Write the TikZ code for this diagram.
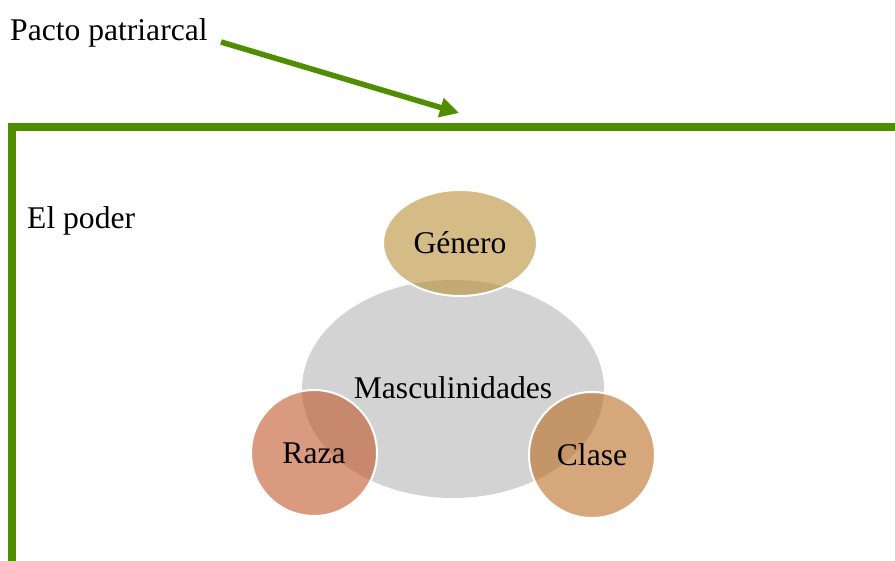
\documentclass[tikz,border=0pt]{standalone}
\usepackage{fontspec}
\setmainfont{Liberation Serif}
\usetikzlibrary{shapes.geometric,arrows.meta}
\definecolor{frameGreen}{RGB}{78,142,0}
\definecolor{midGray}{RGB}{211,211,211}
\definecolor{genCol}{RGB}{185,143,53}
\definecolor{razaCol}{RGB}{193,87,43}
\definecolor{claseCol}{RGB}{187,108,33}
\tikzset{
  lbl/.style={font=\fontsize{31.6}{36}\selectfont, inner sep=0pt},
  blob/.style={ellipse, inner sep=0pt, font=\fontsize{31.6}{36}\selectfont},
  bubble/.style={blob, fill opacity=0.6, text opacity=1, draw=white, draw opacity=1, line width=2pt},
  greenline/.style={draw=frameGreen, line width=8pt, line join=miter}
}
\begin{document}
\begin{tikzpicture}[x=1pt,y=-1pt]
\useasboundingbox (0,0) rectangle (895,561);
% frame
\coordinate (fr) at (900,127);
\coordinate (fc) at (12,127);
\coordinate (fb) at (12,566);
\draw[greenline] (fr) -- (fc) -- (fb);
% labels
\node[lbl, anchor=west] (pp) at (10,33) {Pacto patriarcal};
\node[lbl, anchor=west] (poder) at (27,221) {El poder};
% arrow
\coordinate (as) at (221,42);
\coordinate (at) at (459,113);
\draw[draw=frameGreen, fill=frameGreen, line width=5.5pt, -{Triangle[length=19pt,width=19pt]}] (as) -- (at);
% shapes
\node[blob, fill=midGray, minimum width=302pt, minimum height=218pt] (masc) at (453,389) {};
\node[lbl] (masct) at (453,388) {Masculinidades};
\node[bubble, fill=genCol, minimum width=154pt, minimum height=106pt] (gen) at (460,243) {Género};
\node[bubble, circle, fill=razaCol, minimum size=126pt] (raza) at (314,453) {Raza};
\node[bubble, circle, fill=claseCol, minimum size=126pt] (clase) at (592,455) {Clase};
\end{tikzpicture}
\end{document}
